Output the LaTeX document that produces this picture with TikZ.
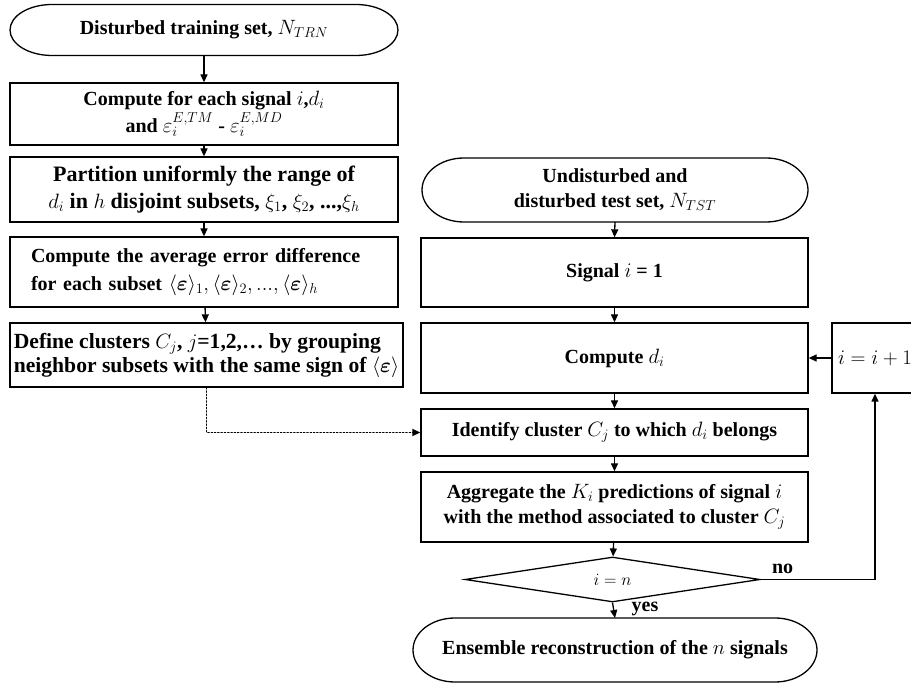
\documentclass[tikz,border=0pt]{standalone}
\usepackage{fontspec}
\setmainfont{Liberation Serif}
\usepackage{bm}
\usetikzlibrary{shapes.geometric,arrows.meta}

\tikzset{
  frame/.style={line width=1.3pt},
  box/.style={draw, frame, rectangle, align=center, inner sep=3pt,
    font=\bfseries\fontsize{20}{25}\selectfont},
  term/.style={box, draw=none, outer sep=0pt},
  test/.style={draw, frame, diamond, aspect=6.5, inner sep=0pt,
    font=\fontsize{18}{20}\selectfont},
  flow/.style={frame, -{Triangle[length=8pt,width=7pt]}},
  lbl/.style={font=\bfseries\fontsize{20}{22}\selectfont, inner sep=0pt},
}

% outline of a start/end node: flat top and bottom, elliptic ends
\newcommand{\termframe}[3]{%
  \draw[frame] ([xshift=#2]#1.north west) -- ([xshift=-#2]#1.north east)
    arc[start angle=90, end angle=-90, x radius=#2, y radius=#3]
    -- ([xshift=#2]#1.south west)
    arc[start angle=270, end angle=90, x radius=#2, y radius=#3] -- cycle;}

\begin{document}
\begin{tikzpicture}[x=1pt, y=-1pt]
  \useasboundingbox (0,0) rectangle (911,684);
  \clip (0,0) rectangle (911,684);

  % training branch
  \node[term, minimum width=388pt, minimum height=51pt] (trn) at (204,30)
    {Disturbed training set, $N_{TRN}$};
  \node[box, font=\bfseries\fontsize{20}{27}\selectfont,
    minimum width=388pt, minimum height=62pt] (dist) at (204,114)
    {Compute for each signal $i$,$d_i$\\ and $\varepsilon_i^{E,TM}$ - $\varepsilon_i^{E,MD}$};
  \node[box, font=\bfseries\fontsize{22}{27}\selectfont,
    minimum width=388pt, minimum height=65pt] (part) at (204,189.5)
    {Partition uniformly the range of\\ $d_i$ in $h$ disjoint subsets, $\xi_1$, $\xi_2$, ...,$\xi_h$};
  \node[box, font=\bfseries\fontsize{20}{28}\selectfont, align=left,
    inner xsep=21pt, text width=346pt, minimum height=70pt] (avg) at (204,272)
    {Compute the average error difference\\ for each subset
     $\langle\bm{\varepsilon}\rangle_1,\langle\bm{\varepsilon}\rangle_2,...,\langle\bm{\varepsilon}\rangle_h$};
  \node[box, font=\bfseries\fontsize{21.6}{24}\selectfont, align=left, inner xsep=1pt,
    minimum width=393pt, minimum height=64pt] (clus) at (206.5,355)
    {Define clusters $C_j$, $j$=1,2,\dots\ by grouping\\ neighbor subsets with the same sign of $\langle\bm{\varepsilon}\rangle$};

  % test branch
  \node[term, minimum width=386pt, minimum height=64pt] (tst) at (615,190)
    {Undisturbed and\\ disturbed test set, $N_{TST}$};
  \node[box, minimum width=387pt, minimum height=69pt] (first) at (614.5,272.5)
    {Signal $i$ = 1};
  \node[box, minimum width=387pt, minimum height=70pt] (cmpd) at (614.5,358)
    {Compute $d_i$};
  \node[box, minimum width=86pt, minimum height=70pt] (inc) at (875,358)
    {$i=i+1$};
  \node[box, minimum width=387pt, minimum height=47pt] (ident) at (614.5,432.5)
    {Identify cluster $C_j$ to which $d_i$ belongs};
  \node[box, minimum width=387pt, minimum height=70pt] (aggr) at (614.5,507)
    {Aggregate the $K_i$ predictions of signal $i$\\ with the method associated to cluster $C_j$};
  \node[test, minimum width=295pt, minimum height=45pt] (last) at (612.5,579.5)
    {$i=n$};
  \node[term, minimum width=404pt, minimum height=64pt] (ens) at (615,650)
    {Ensemble reconstruction of the $n$ signals};

  \termframe{trn}{42pt}{25.5pt}
  \termframe{tst}{42pt}{32pt}
  \termframe{ens}{42pt}{32pt}

  \draw[flow] (trn.south) -- (dist.north);
  \draw[flow] (dist) -- (part);
  \draw[flow] (part) -- (avg);
  \draw[flow] (avg) -- (clus);
  \draw[flow, dotted, line cap=round] (clus.south) |- (ident.west);

  \draw[flow] (tst.south) -- (first.north);
  \draw[flow] (first) -- (cmpd);
  \draw[flow] (cmpd) -- (ident);
  \draw[flow] (ident) -- (aggr);
  \draw[flow] (aggr) -- (last);
  \draw[flow] (last.south) -- (ens.north);
  \draw[flow] (last.east) -| (inc.south);
  \draw[flow] (inc) -- (cmpd);

  \node[lbl] (no) at ([xshift=22pt,yshift=11pt]last.east) {no};
  \node[lbl, anchor=west] (yes) at ([xshift=19pt,yshift=-6pt]last.south) {yes};
\end{tikzpicture}
\end{document}
